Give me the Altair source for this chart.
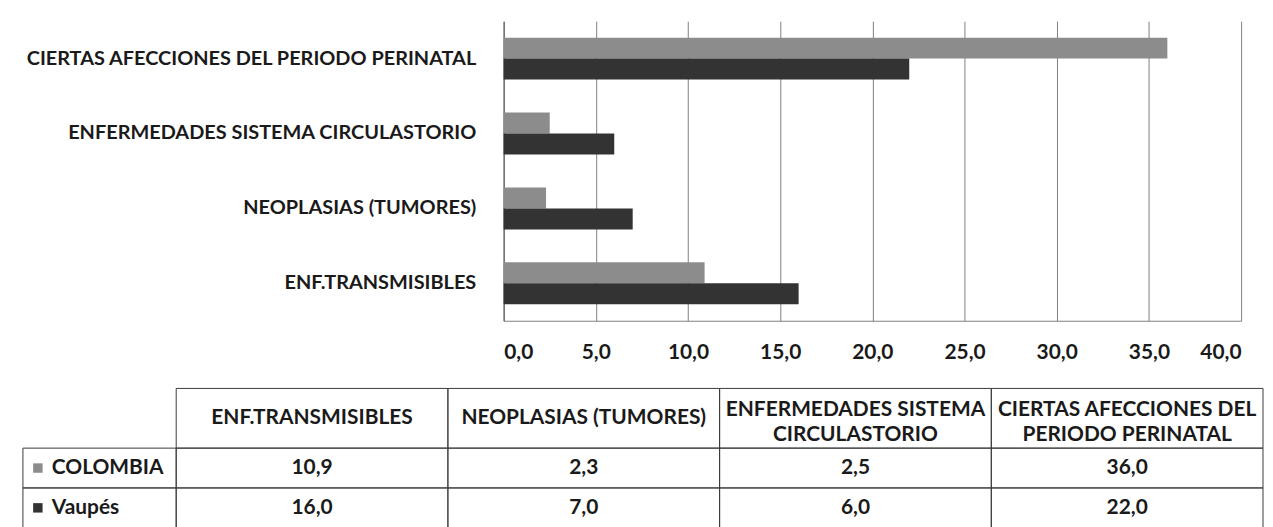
import altair as alt
import pandas as pd

# ---- data ----
categories = ["ENF.TRANSMISIBLES", "NEOPLASIAS (TUMORES)",
              "ENFERMEDADES SISTEMA CIRCULASTORIO",
              "CIERTAS AFECCIONES DEL PERIODO PERINATAL"]
header_labels = ["ENF.TRANSMISIBLES", "NEOPLASIAS (TUMORES)",
                 "ENFERMEDADES SISTEMA\nCIRCULASTORIO",
                 "CIERTAS AFECCIONES DEL\nPERIODO PERINATAL"]
series = ["COLOMBIA", "Vaupés"]
colombia = [10.9, 2.3, 2.5, 36.0]
vaupes = [16.0, 7.0, 6.0, 22.0]
x_ticks = [0, 5, 10, 15, 20, 25, 30, 35, 40]
colors = ["#8c8c8c", "#333333"]

FONT = "Lato"
FW = "bold"
FS = 21
FS_Y = 20
TXT = "#1a1a1a"
LINE = "#3a3a3a"

rows = []
for i, c in enumerate(categories):
    for s, vals in zip(series, [colombia, vaupes]):
        rows.append({"cat": c, "header": header_labels[i], "serie": s,
                     "valor": vals[i], "fila": "encabezado", "leyenda": "leyenda"})
df = pd.DataFrame(rows)
hdr = df[df["serie"] == series[0]].copy()
hdr["multi"] = hdr["header"].str.contains("\n")
leg = pd.DataFrame({"serie": series, "leyenda": ["leyenda"] * len(series)})

bar_order = list(reversed(categories))
label_expr = "replace(format(datum.value, '.1f'), '.', ',')"

bars = alt.Chart(df).mark_bar().encode(
    x=alt.X("valor:Q", scale=alt.Scale(domain=[0, 40], nice=False),
            axis=alt.Axis(values=x_ticks, title=None, grid=True, gridColor="#808080",
                          gridWidth=1, ticks=False, domainColor="#808080",
                          labelExpr=label_expr, labelFont=FONT, labelFontSize=FS,
                          labelFontWeight=FW, labelColor=TXT, labelPadding=21)),
    y=alt.Y("cat:N", sort=bar_order,
            scale=alt.Scale(paddingInner=0.44, paddingOuter=0.22),
            axis=alt.Axis(title=None, ticks=False, domainColor="#555555", labelPadding=28,
                          labelLimit=700, labelFont=FONT, labelFontSize=FS_Y,
                          labelFontWeight=FW, labelColor=TXT, grid=False)),
    yOffset=alt.YOffset("serie:N", sort=series),
    color=alt.Color("serie:N", scale=alt.Scale(domain=series, range=colors), legend=None),
)


def band(domain, rng):
    return alt.Scale(type="band", domain=domain, range=rng, paddingInner=0, paddingOuter=0)


COLS = [-329, 763]
ROWS = [429, 509]
HDR = [369, 429]
LEGC = [-483, -329]

col_x = alt.X("cat:N", scale=band(categories, COLS), axis=None)
col_xc = alt.X("cat:N", scale=band(categories, COLS), axis=None, bandPosition=0.5)
row_y = alt.Y("serie:N", scale=band(series, ROWS), axis=None)
row_yc = alt.Y("serie:N", scale=band(series, ROWS), axis=None, bandPosition=0.5)
hdr_y = alt.Y("fila:N", scale=band(["encabezado"], HDR), axis=None)
hdr_yc = alt.Y("fila:N", scale=band(["encabezado"], HDR), axis=None, bandPosition=0.5)
leg_x = alt.X("leyenda:N", scale=band(["leyenda"], LEGC), axis=None)
leg_x0 = alt.X("leyenda:N", scale=band(["leyenda"], LEGC), axis=None, bandPosition=0)

cell_rect = alt.Chart(df).mark_rect(filled=False, stroke=LINE, strokeWidth=1).encode(
    x=col_x, y=row_y)
cell_text = alt.Chart(df).transform_calculate(
    txt="replace(format(datum.valor, '.1f'), '.', ',')"
).mark_text(font=FONT, fontSize=FS, fontWeight=FW, color=TXT, baseline="middle").encode(
    x=col_xc, y=row_yc, text="txt:N")

hdr_rect = alt.Chart(hdr).mark_rect(filled=False, stroke=LINE, strokeWidth=1).encode(
    x=col_x, y=hdr_y)
hdr_text1 = alt.Chart(hdr).transform_filter("!datum.multi").mark_text(
    font=FONT, fontSize=FS, fontWeight=FW, color=TXT, baseline="middle"
).encode(x=col_xc, y=hdr_yc, text="header:N")
hdr_text2 = alt.Chart(hdr).transform_filter("datum.multi").mark_text(
    font=FONT, fontSize=FS, fontWeight=FW, color=TXT, baseline="middle",
    lineBreak="\n", lineHeight=25, dy=-8
).encode(x=col_xc, y=hdr_yc, text="header:N")

leg_rect = alt.Chart(leg).mark_rect(filled=False, stroke=LINE, strokeWidth=1).encode(
    x=leg_x, y=row_y)
leg_sq = alt.Chart(leg).mark_square(size=90, opacity=1).encode(
    x=leg_x0, xOffset=alt.value(15), y=row_yc,
    color=alt.Color("serie:N", scale=alt.Scale(domain=series, range=colors), legend=None))
leg_text = alt.Chart(leg).mark_text(
    font=FONT, fontSize=FS, fontWeight=FW, color=TXT, baseline="middle", align="left", dx=29
).encode(x=leg_x0, y=row_yc, text="serie:N")

chart = alt.layer(
    bars, cell_rect, cell_text, hdr_rect, hdr_text1, hdr_text2, leg_rect, leg_sq, leg_text
).resolve_scale(
    x="independent", y="independent", color="independent"
).properties(
    width=741, height=301, autosize="none",
    padding={"left": 498, "top": 12, "right": 24, "bottom": 206},
    background="white",
).configure_view(stroke=None)

chart.save("out.html", embed_options={"renderer": "svg", "actions": False})
